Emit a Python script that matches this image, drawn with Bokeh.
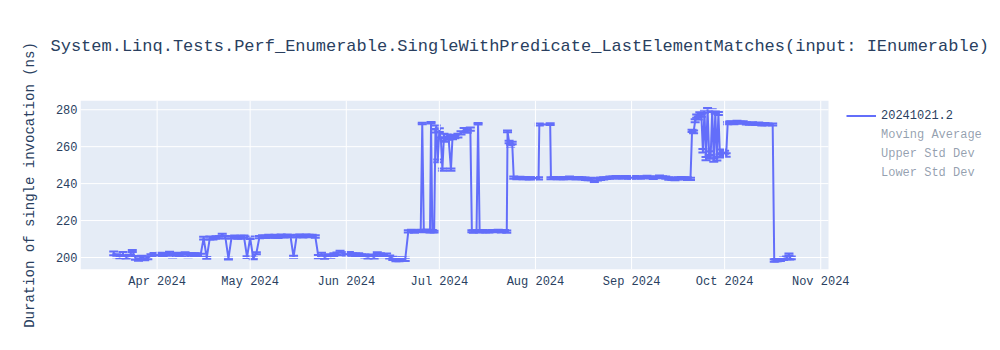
import pandas as pd
from bokeh.plotting import figure
from bokeh.models import (Range1d, Whisker, TeeHead, ColumnDataSource, Legend, LegendItem,
                          DatetimeTickFormatter, FixedTicker, BoxAnnotation, Title)
from bokeh.embed import file_html
from bokeh.resources import INLINE

TITLE = "System.Linq.Tests.Perf_Enumerable.SingleWithPredicate_LastElementMatches(input: IEnumerable)"
Y_LABEL = "Duration of single invocation (ns)"
SERIES_NAME = "20241021.2"
HIDDEN_SERIES = ["Moving Average", "Upper Std Dev", "Lower Std Dev"]
HIDDEN_COLORS = ["#EF553B", "#00CC96", "#AB63FA"]
Y_TICKS = [200, 220, 240, 260, 280]
X_TICKS = ["2024-04-01", "2024-05-01", "2024-06-01", "2024-07-01",
           "2024-08-01", "2024-09-01", "2024-10-01", "2024-11-01"]
X_START = "2024-03-07 07:00"
X_END = "2024-11-03 12:00"
Y_START, Y_END = 193.5, 285.0

# ---- data, segment by segment (run date, mean duration ns, std dev ns) ----
seg_a_dates = ["03-18", "03-19", "03-20", "03-21", "03-22", "03-23", "03-24", "03-25", "03-26", "03-27",
               "03-28", "03-29", "03-30", "03-31", "04-01", "04-02", "04-03", "04-04", "04-05", "04-06",
               "04-07", "04-08", "04-09", "04-10", "04-11", "04-12", "04-13", "04-14", "04-15"]
seg_a_vals = [202.2, 201.0, 200.5, 201.8, 200.2, 200.8, 203.5, 199.8, 199.5, 200.0,
              199.6, 199.8, 201.0, 201.5, 201.2, 202.0, 201.4, 201.8, 202.3, 201.0,
              202.0, 201.6, 201.2, 202.2, 201.0, 201.8, 201.4, 201.6, 201.2]
seg_a_errs = [1.0, 0.8, 0.9, 1.2, 0.8, 0.7, 0.5, 1.0, 1.2, 0.9,
              1.1, 0.8, 0.7, 0.9, 0.8, 0.6, 0.9, 0.7, 0.8, 1.0,
              0.6, 0.8, 0.9, 0.7, 0.8, 0.6, 0.9, 0.7, 0.8]

seg_b_dates = ["04-16", "04-17", "04-18", "04-19", "04-20", "04-21", "04-22", "04-23", "04-24", "04-25",
               "04-26", "04-27", "04-28", "04-29", "04-30", "05-01", "05-02", "05-03", "05-04", "05-05",
               "05-06", "05-07", "05-08", "05-09", "05-10", "05-11", "05-12", "05-13", "05-14", "05-15",
               "05-16", "05-17", "05-18", "05-19", "05-20", "05-21", "05-22"]
seg_b_vals = [210.5, 199.8, 210.6, 210.4, 210.8, 211.0, 212.3, 211.0, 199.4, 210.9,
              211.2, 210.8, 211.0, 211.3, 200.2, 210.7, 199.5, 202.3, 211.0, 211.4,
              211.2, 211.6, 211.3, 211.5, 211.2, 211.7, 211.4, 211.8, 211.5, 200.4,
              211.6, 211.9, 211.5, 211.8, 211.6, 211.7, 211.4]
seg_b_errs = [0.7, 0.5, 0.8, 0.6, 0.7, 0.6, 0.5, 0.7, 0.5, 0.6,
              0.7, 0.6, 0.8, 0.6, 0.5, 0.7, 0.5, 0.5, 0.6, 0.7,
              0.6, 0.7, 0.6, 0.8, 0.6, 0.7, 0.6, 0.7, 0.6, 0.5,
              0.7, 0.6, 0.7, 0.6, 0.7, 0.6, 0.7]

seg_c_dates = ["05-23", "05-24", "05-25", "05-26", "05-27", "05-28", "05-29", "05-30", "05-31", "06-01",
               "06-02", "06-03", "06-04", "06-05", "06-06", "06-07", "06-08", "06-09", "06-10", "06-11",
               "06-12", "06-13", "06-14", "06-15", "06-16", "06-17", "06-18", "06-19", "06-20"]
seg_c_vals = [200.5, 201.8, 200.2, 201.0, 200.6, 201.4, 202.0, 203.2, 202.0, 201.8,
              202.2, 201.6, 201.2, 201.5, 201.0, 200.8, 200.4, 200.9, 200.2, 202.4,
              201.5, 200.8, 201.2, 200.3, 199.5, 199.0, 198.8, 199.2, 199.0]
seg_c_errs = [0.9, 0.8, 0.9, 0.7, 0.8, 0.9, 0.7, 0.5, 0.8, 0.7,
              0.8, 0.7, 0.9, 0.8, 0.7, 0.8, 0.9, 0.7, 0.8, 0.5,
              0.8, 0.7, 0.9, 0.8, 0.9, 1.0, 0.9, 1.0, 0.9]

seg_d_dates = ["06-21 00:00", "06-22 00:00", "06-23 00:00", "06-24 00:00", "06-25 00:00", "06-25 12:00",
               "06-26 00:00", "06-27 00:00", "06-28 00:00", "06-28 08:00", "06-28 18:00", "06-29 08:00",
               "06-29 18:00", "06-30 00:00", "06-30 12:00", "07-01 00:00", "07-01 12:00", "07-02 00:00",
               "07-02 12:00", "07-03 00:00", "07-03 12:00", "07-04 00:00", "07-04 18:00", "07-05 06:00",
               "07-06 00:00", "07-07 00:00", "07-08 00:00", "07-09 00:00", "07-10 00:00", "07-11 00:00",
               "07-11 12:00", "07-12 00:00", "07-13 00:00", "07-13 12:00", "07-14 00:00", "07-15 00:00",
               "07-16 00:00", "07-17 00:00", "07-18 00:00", "07-19 00:00", "07-20 00:00", "07-21 00:00",
               "07-22 00:00", "07-22 18:00", "07-23 00:00", "07-23 12:00", "07-24 00:00", "07-24 12:00"]
seg_d_vals = [214.2, 214.5, 214.0, 214.3, 214.4, 272.6,
              214.2, 214.5, 214.1, 273.0, 214.3, 214.0,
              268.5, 270.5, 252.3, 269.0, 264.0, 247.6,
              266.0, 263.5, 265.5, 264.5, 247.6, 265.0,
              265.5, 266.0, 267.5, 269.0, 268.5, 269.5,
              214.2, 214.0, 214.3, 272.4, 214.1, 214.3,
              214.0, 214.2, 214.4, 214.3, 214.5, 214.2,
              214.4, 214.0, 268.3, 262.5, 260.5, 262.0]
seg_d_errs = [0.6, 0.5, 0.6, 0.5, 0.6, 0.4,
              0.5, 0.6, 0.5, 0.4, 0.6, 0.5,
              0.8, 0.9, 0.7, 1.0, 0.9, 0.6,
              1.0, 0.9, 1.1, 0.8, 0.6, 1.0,
              0.9, 1.0, 0.9, 1.1, 1.0, 0.9,
              0.5, 0.6, 0.5, 0.4, 0.5, 0.6,
              0.5, 0.6, 0.5, 0.6, 0.5, 0.6,
              0.5, 0.6, 0.5, 0.7, 0.6, 0.7]

seg_e_dates = ["07-25 00:00", "07-26 00:00", "07-27 00:00", "07-28 00:00", "07-29 00:00", "07-30 00:00",
               "07-31 00:00", "08-01 00:00", "08-02 00:00", "08-02 06:00", "08-05 18:00", "08-06 00:00",
               "08-07 00:00", "08-08 00:00", "08-09 00:00", "08-10 00:00", "08-11 00:00", "08-12 00:00",
               "08-13 00:00", "08-14 00:00", "08-15 00:00", "08-16 00:00", "08-17 00:00", "08-18 00:00",
               "08-19 00:00", "08-20 00:00", "08-21 00:00", "08-22 00:00", "08-23 00:00", "08-24 00:00",
               "08-25 00:00", "08-26 00:00", "08-27 00:00", "08-28 00:00", "08-29 00:00", "08-30 00:00",
               "08-31 00:00", "09-01 00:00", "09-02 00:00", "09-03 00:00", "09-04 00:00", "09-05 00:00",
               "09-06 00:00", "09-07 00:00", "09-08 00:00", "09-09 00:00", "09-10 00:00", "09-11 00:00",
               "09-12 00:00", "09-13 00:00", "09-14 00:00", "09-15 00:00", "09-16 00:00", "09-17 00:00",
               "09-18 00:00", "09-19 00:00", "09-20 00:00"]
seg_e_vals = [243.2, 242.8, 243.1, 242.9, 243.0, 242.7,
              242.9, 243.0, 242.8, 272.0, 272.2, 242.9,
              243.1, 242.9, 242.8, 243.0, 242.9, 243.2,
              243.0, 242.8, 243.1, 242.9, 242.6, 242.4,
              242.5, 240.8, 242.3, 242.6, 242.8, 243.0,
              243.2, 243.4, 243.5, 243.3, 243.4, 243.6,
              243.3, 243.2, 243.5, 243.4, 243.2, 243.5,
              243.6, 243.3, 243.1, 243.4, 243.8, 243.5,
              243.2, 242.8, 242.6, 242.5, 242.8, 243.1,
              242.9, 242.7, 242.6]
seg_e_errs = [0.6, 0.5, 0.6, 0.5, 0.6, 0.5,
              0.6, 0.5, 0.6, 0.5, 0.5, 0.6,
              0.5, 0.6, 0.5, 0.6, 0.5, 0.6,
              0.5, 0.6, 0.5, 0.6, 0.7, 0.6,
              0.7, 0.5, 0.6, 0.7, 0.6, 0.5,
              0.6, 0.5, 0.6, 0.5, 0.6, 0.5,
              0.6, 0.5, 0.6, 0.5, 0.6, 0.5,
              0.6, 0.5, 0.6, 0.5, 0.6, 0.5,
              0.6, 0.7, 0.6, 0.7, 0.6, 0.5,
              0.6, 0.7, 0.6]

seg_f_dates = ["09-20 12:00", "09-21 00:00", "09-21 12:00", "09-22 00:00", "09-22 12:00", "09-23 00:00",
               "09-23 12:00", "09-24 00:00", "09-24 12:00", "09-25 00:00", "09-25 12:00", "09-26 00:00",
               "09-26 12:00", "09-27 00:00", "09-27 12:00", "09-28 00:00", "09-28 12:00", "09-29 00:00",
               "09-29 12:00", "09-30 00:00", "09-30 12:00", "10-01 00:00", "10-01 12:00", "10-02 00:00"]
seg_f_vals = [268.5, 268.0, 274.0, 276.5, 275.5, 278.0,
              277.0, 257.8, 279.0, 253.5, 280.3, 256.5,
              254.5, 279.5, 252.8, 278.5, 253.5, 278.0,
              255.0, 257.5, 256.0, 257.0, 255.5, 272.8]
seg_f_errs = [0.6, 0.7, 0.8, 0.9, 0.8, 0.7,
              0.8, 0.9, 0.7, 0.9, 0.6, 1.0,
              0.9, 0.7, 0.9, 0.7, 1.0, 0.8,
              0.9, 1.0, 0.9, 0.8, 0.9, 0.6]

seg_g_dates = ["10-02 12:00", "10-03 00:00", "10-04 00:00", "10-05 00:00", "10-06 00:00", "10-07 00:00",
               "10-08 00:00", "10-09 00:00", "10-10 00:00", "10-11 00:00", "10-12 00:00", "10-13 00:00",
               "10-14 00:00", "10-15 00:00", "10-16 12:00", "10-17 00:00", "10-17 12:00", "10-18 00:00",
               "10-19 00:00", "10-20 00:00", "10-21 00:00", "10-21 18:00", "10-22 00:00", "10-22 12:00"]
seg_g_vals = [273.0, 273.2, 272.8, 273.4, 273.0, 273.3,
              272.6, 272.4, 272.6, 272.2, 272.5, 272.0,
              272.2, 272.1, 272.0, 198.4, 198.8, 198.6,
              198.9, 199.3, 199.8, 201.6, 199.6, 199.8]
seg_g_errs = [0.6, 0.5, 0.6, 0.7, 0.6, 0.5,
              0.6, 0.5, 0.6, 0.5, 0.6, 0.5,
              0.6, 0.5, 0.6, 0.7, 0.8, 0.7,
              0.8, 0.7, 0.8, 0.5, 0.7, 0.8]

segments = [
    (seg_a_dates, seg_a_vals, seg_a_errs),
    (seg_b_dates, seg_b_vals, seg_b_errs),
    (seg_c_dates, seg_c_vals, seg_c_errs),
    (seg_d_dates, seg_d_vals, seg_d_errs),
    (seg_e_dates, seg_e_vals, seg_e_errs),
    (seg_f_dates, seg_f_vals, seg_f_errs),
    (seg_g_dates, seg_g_vals, seg_g_errs),
]

run_dates, durations, std_devs = [], [], []
for d, v, e in segments:
    assert len(d) == len(v) == len(e), (len(d), len(v), len(e))
    run_dates += ["2024-" + s for s in d]
    durations += v
    std_devs += e

x = pd.to_datetime(run_dates, format="mixed")
src = ColumnDataSource(dict(
    x=x,
    y=durations,
    upper=[v + e for v, e in zip(durations, std_devs)],
    lower=[v - e for v, e in zip(durations, std_devs)],
))

FONT = "Liberation Mono"
TEXT = "#2a3f5f"
BLUE = "#636efa"
PLOT_BG = "#E5ECF6"

# layout: plot area is 748 px wide starting at 80 px; the frame extends to the right
# edge so that the legend (drawn inside the frame) is not clipped.
LEFT, AREA_W, RIGHT_PAD = 80, 748, 172
t0 = pd.Timestamp(X_START)
t1 = pd.Timestamp(X_END)
t_frame_end = t1 + (t1 - t0) * (RIGHT_PAD / AREA_W)

def ms(t):
    return pd.Timestamp(t).value / 1e6

p = figure(width=1000, height=350, x_axis_type="datetime", output_backend="svg",
           toolbar_location=None, title=None,
           x_range=Range1d(ms(t0), ms(t_frame_end)),
           y_range=Range1d(Y_START, Y_END),
           min_border_left=LEFT, min_border_right=0, min_border_top=100, min_border_bottom=81)

p.background_fill_color = "white"
p.border_fill_color = "white"
p.outline_line_color = None
p.xgrid.visible = False
p.ygrid.visible = False

# spacer between plot area and title, then the title itself (further out)
p.add_layout(Title(text=" ", text_font_size="1px", standoff=42), "above")
p.add_layout(Title(text=TITLE, text_font=FONT, text_font_size="17px", text_font_style="normal",
                   text_color=TEXT, align="left", offset=-30, standoff=0), "above")

# plot-area background and grid limited to the data area
p.add_layout(BoxAnnotation(left=ms(t0), right=ms(t1), fill_color=PLOT_BG, fill_alpha=1.0,
                           line_color=None, level="underlay"))
xt = [ms(t) for t in X_TICKS]
p.segment(x0=xt, x1=xt, y0=[Y_START] * len(xt), y1=[Y_END] * len(xt),
          line_color="white", line_width=1)
p.segment(x0=[ms(t0)] * len(Y_TICKS), x1=[ms(t1)] * len(Y_TICKS), y0=Y_TICKS, y1=Y_TICKS,
          line_color="white", line_width=1)

for ax in (p.xaxis, p.yaxis):
    ax.axis_line_color = None
    ax.major_tick_line_color = None
    ax.minor_tick_line_color = None
    ax.major_tick_out = 0
    ax.major_tick_in = 0
    ax.major_label_text_font = FONT
    ax.major_label_text_font_size = "12px"
    ax.major_label_text_color = TEXT

p.xaxis.ticker = FixedTicker(ticks=xt)
fmt = "%b %Y"
p.xaxis.formatter = DatetimeTickFormatter(months=fmt, days=fmt, years=fmt, hours=fmt,
                                          minutes=fmt, seconds=fmt, milliseconds=fmt,
                                          microseconds=fmt, hourmin=fmt, minsec=fmt)
p.xaxis.major_label_standoff = 5

p.yaxis.ticker = FixedTicker(ticks=Y_TICKS)
p.yaxis.major_label_standoff = 3
p.yaxis.axis_label = Y_LABEL
p.yaxis.axis_label_text_font = FONT
p.yaxis.axis_label_text_font_size = "14px"
p.yaxis.axis_label_text_font_style = "normal"
p.yaxis.axis_label_text_color = TEXT
p.yaxis.axis_label_standoff = 15

main = p.line("x", "y", source=src, line_color=BLUE, line_width=2)
p.add_layout(Whisker(base="x", upper="upper", lower="lower", source=src,
                     line_color=BLUE, line_width=2,
                     upper_head=TeeHead(size=9, line_color=BLUE, line_width=2),
                     lower_head=TeeHead(size=9, line_color=BLUE, line_width=2)))

hidden_items = []
for name, col in zip(HIDDEN_SERIES, HIDDEN_COLORS):
    r = p.line(x=[], y=[], line_color=col, line_alpha=0.5, line_width=2)
    hidden_items.append(LegendItem(label=name, renderers=[r]))

common = dict(orientation="vertical", label_text_font=FONT, label_text_font_size="12px",
              label_text_color=TEXT, glyph_width=30, glyph_height=19, label_height=19,
              label_standoff=5, spacing=0, padding=0, margin=0, border_line_color=None,
              background_fill_alpha=0)
leg_x = 846 - LEFT
legend_main = Legend(items=[LegendItem(label=SERIES_NAME, renderers=[main])],
                     location=(leg_x, 144), **common)
legend_hidden = Legend(items=hidden_items, location=(leg_x, 87), label_text_alpha=0.5, **common)
p.add_layout(legend_main)
p.add_layout(legend_hidden)

open("out.html", "w").write(file_html(p, INLINE))
